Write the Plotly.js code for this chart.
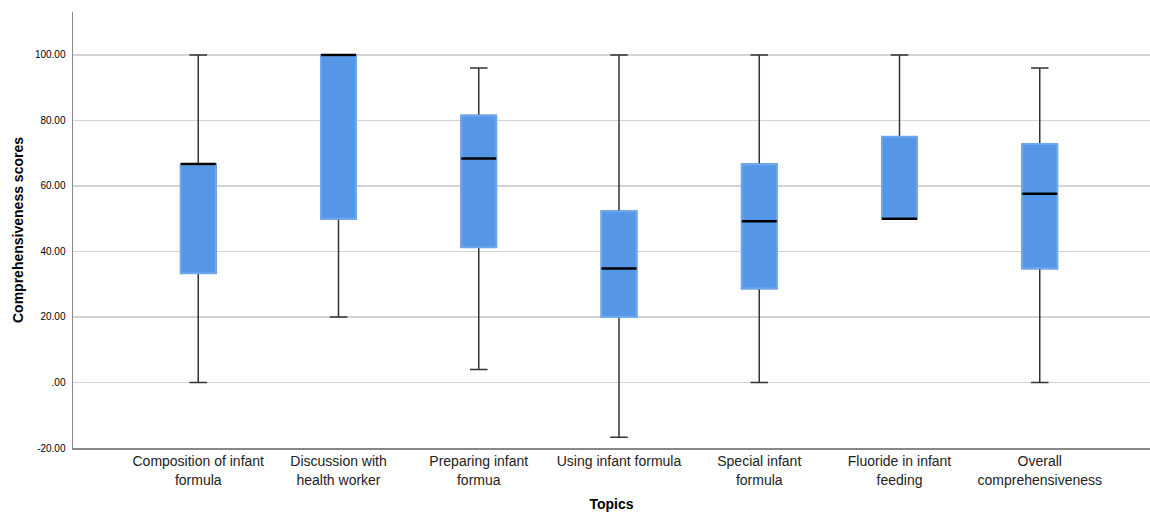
<!DOCTYPE html>
<html>
<head>
<meta charset="utf-8">
<script src="https://cdn.plot.ly/plotly-3.0.1.min.js"></script>
<style>html,body{margin:0;padding:0;background:#fff;}#chart{width:1150px;height:512px;}</style>
</head>
<body>
<div id="chart"></div>
<script>
var categories = [
  "Composition of infant<br>formula",
  "Discussion with<br>health worker",
  "Preparing infant<br>formua",
  "Using infant formula",
  "Special infant<br>formula",
  "Fluoride in infant<br>feeding",
  "Overall<br>comprehensiveness"
];
var minValues    = [0,     20,  4,    -16.7, 0,    50, 0];
var q1Values     = [33.33, 50,  41.3, 20,    28.7, 50, 34.8];
var medianValues = [66.67, 100, 68.4, 34.8,  49.2, 50, 57.6];
var q3Values     = [66.67, 100, 81.5, 52.3,  66.6, 75, 72.8];
var maxValues    = [100,   100, 96,   100,   100,  100, 96];
var yTickValues = [-20, 0, 20, 40, 60, 80, 100];
var yTickLabels = ["-20.00", ".00", "20.00", "40.00", "60.00", "80.00", "100.00"];

var fill = "#5596e6";
var font = "Arial, 'Liberation Sans', sans-serif";

var whiskers = {
  type: "box", x: categories,
  q1: q1Values, median: medianValues, q3: q3Values,
  lowerfence: minValues, upperfence: maxValues,
  width: 0.25, whiskerwidth: 0.5,
  fillcolor: fill, line: {color: "#333333", width: 1.5},
  boxpoints: false, hoverinfo: "skip", showlegend: false
};
var boxes = {
  type: "box", x: categories,
  q1: q1Values, median: medianValues, q3: q3Values,
  lowerfence: q1Values, upperfence: q3Values,
  width: 0.25, whiskerwidth: 0,
  fillcolor: fill, line: {color: "#6ea8ee", width: 2},
  boxpoints: false, hoverinfo: "skip", showlegend: false
};
var medians = {
  type: "scatter", mode: "markers", x: categories, y: medianValues,
  marker: {symbol: "line-ew", size: 25, color: "#000", line: {color: "#000", width: 2.5}},
  hoverinfo: "skip", showlegend: false
};

var layout = {
  width: 1150, height: 512,
  margin: {l: 73, r: 0, t: 12, b: 64},
  paper_bgcolor: "#fff", plot_bgcolor: "#fff",
  boxmode: "overlay",
  font: {family: font, color: "#000"},
  xaxis: {
    type: "category", range: [-0.893, 6.786],
    showgrid: false, zeroline: false,
    showline: true, linecolor: "#888", linewidth: 1.5,
    ticks: "", tickfont: {size: 14, color: "#222"},
    title: {text: "<b>Topics</b>", font: {size: 14, color: "#000"}, standoff: 17},
    automargin: false
  },
  yaxis: {
    range: [-20, 113.1],
    tickvals: yTickValues, ticktext: yTickLabels,
    tickfont: {size: 10, color: "#000"},
    ticks: "", ticklabelstandoff: 4,
    showgrid: true, gridcolor: "#d3d3d3", gridwidth: 1.5,
    zeroline: false,
    showline: true, linecolor: "#888", linewidth: 1.5,
    title: {text: "<b>Comprehensiveness scores</b>", font: {size: 14, color: "#000"}, standoff: 8},
    automargin: false
  }
};

Plotly.newPlot("chart", [whiskers, boxes, medians], layout, {displayModeBar: false, staticPlot: true});
</script>
</body>
</html>
